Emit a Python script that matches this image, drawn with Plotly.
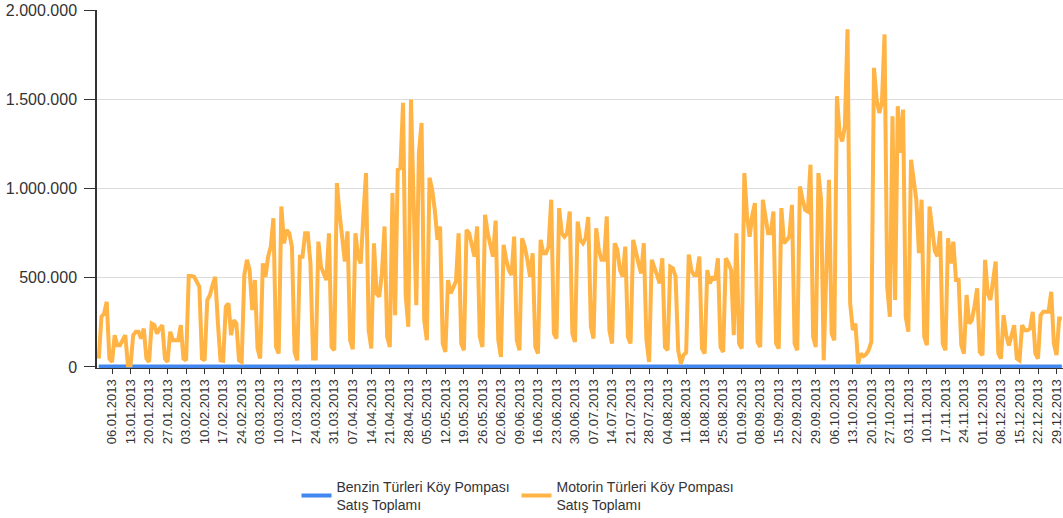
import plotly.graph_objects as go
import pandas as pd

# Daily totals, thousands, 2013
motorin_jan = [47,281,300,365,47,28,178,122,122,150,178,9,9,178,197,197,159,215,47,28,243,234,187,215,234,47,28,197,150,150,150]
motorin_feb = [234,47,37,509,509,505,478,450,47,37,375,403,459,505,250,37,34,337,356,178,262,243,37,28,515,600,543,318]
motorin_mar = [487,103,47,580,505,618,674,833,112,75,899,693,768,749,674,84,37,618,618,749,749,580,47,47,702,562,524,487,749,112,94]
motorin_apr = [1030,860,700,590,760,150,100,749,618,580,843,1086,206,103,693,412,393,524,787,169,112,974,290,1105,1114,1480,400,225,1498,1011]
motorin_may = [346,1200,1367,262,150,1060,993,880,712,787,131,84,487,412,450,480,749,131,94,768,749,693,618,787,169,112,852,749,693,618,820]
motorin_jun = [150,56,684,600,543,515,730,150,94,721,674,600,506,637,112,75,712,637,637,674,937,187,159,890,749,730,749,871,187,140]
motorin_jul = [815,712,693,721,840,225,159,777,656,600,600,843,206,131,693,656,543,506,674,169,131,712,637,580,524,693,150,28,600,562,515]
motorin_aug = [468,609,112,94,562,553,506,94,19,66,80,630,540,515,515,618,103,75,543,468,506,487,609,112,84,609,580,543,178,749,131]
motorin_sep = [103,1086,850,730,850,918,140,112,937,840,749,749,871,131,103,890,693,710,730,908,131,94,1011,940,880,871,1133,169,112,1086]
motorin_oct = [937,37,560,1049,187,150,1517,1311,1264,1349,1892,356,206,243,19,75,60,70,94,140,1676,1498,1423,1480,1863,450,281,1405,375,1461,1199]
motorin_nov = [1442,281,197,1161,1050,937,637,937,169,122,899,760,650,620,760,131,94,721,580,702,487,487,122,75,403,243,262,340,440,84]
motorin_dec = [66,600,412,375,480,590,75,47,290,178,120,170,234,47,37,234,206,206,215,309,75,47,290,309,309,309,421,131,66,272,272]

benzin_jan = [2,2,2,2,2,2,2,2,2,2,2,2,2,2,2,2,2,2,2,2,2,2,2,2,2,2,2,2,2,2,2]
benzin_feb = [2,2,2,2,2,2,2,2,2,2,2,2,2,2,2,2,2,2,2,2,2,2,2,2,2,2,2,2]
benzin_mar = [2,2,2,2,2,2,2,2,2,2,2,2,2,2,2,2,2,2,2,2,2,2,2,2,2,2,2,2,2,2,2]
benzin_apr = [2,2,2,2,2,2,2,2,2,2,2,2,2,2,2,2,2,2,2,2,2,2,2,2,2,2,2,2,2,2]
benzin_may = [2,2,2,2,2,2,2,2,2,2,2,2,2,2,2,2,2,2,2,2,2,2,2,2,2,2,2,2,2,2,2]
benzin_jun = [2,2,2,2,2,2,2,2,2,2,2,2,2,2,2,2,2,2,2,2,2,2,2,2,2,2,2,2,2,2]
benzin_jul = [2,2,2,2,2,2,2,2,2,2,2,2,2,2,2,2,2,2,2,2,2,2,2,2,2,2,2,2,2,2,2]
benzin_aug = [2,2,2,2,2,2,2,2,2,2,2,2,2,2,2,2,2,2,2,2,2,2,2,2,2,2,2,2,2,2,2]
benzin_sep = [2,2,2,2,2,2,2,2,2,2,2,2,2,2,2,2,2,2,2,2,2,2,2,2,2,2,2,2,2,2]
benzin_oct = [2,2,2,2,2,2,2,2,2,2,2,2,2,2,2,2,2,2,2,2,2,2,2,2,2,2,2,2,2,2,2]
benzin_nov = [2,2,2,2,2,2,2,2,2,2,2,2,2,2,2,2,2,2,2,2,2,2,2,2,2,2,2,2,2,2]
benzin_dec = [2,2,2,2,2,2,2,2,2,2,2,2,2,2,2,2,2,2,2,2,2,2,2,2,2,2,2,2,2,2,2]

series_names = ["Benzin Türleri Köy Pompası<br>Satış Toplamı",
                "Motorin Türleri Köy Pompası<br>Satış Toplamı"]

dates = pd.date_range("2013-01-01", "2013-12-31", freq="D")
tick_dates = pd.date_range("2013-01-06", "2013-12-29", freq="7D")
tick_labels = [d.strftime("%d.%m.%Y") for d in tick_dates]
y_ticks = [0, 500000, 1000000, 1500000, 2000000]

motorin = [v * 1000 for v in (motorin_jan + motorin_feb + motorin_mar + motorin_apr + motorin_may + motorin_jun
                              + motorin_jul + motorin_aug + motorin_sep + motorin_oct + motorin_nov + motorin_dec)]
benzin = [v * 1000 for v in (benzin_jan + benzin_feb + benzin_mar + benzin_apr + benzin_may + benzin_jun
                             + benzin_jul + benzin_aug + benzin_sep + benzin_oct + benzin_nov + benzin_dec)]

FONT = "Liberation Sans, Arial, sans-serif"
TXT = "#333333"

fig = go.Figure()
fig.add_trace(go.Scatter(x=dates, y=benzin, mode="lines", name=series_names[0],
                         line=dict(color="#4287F0", width=4)))
fig.add_trace(go.Scatter(x=dates, y=motorin, mode="lines", name=series_names[1],
                         line=dict(color="#FFB445", width=4)))

fig.update_layout(
    template="none",
    width=1063, height=518,
    margin=dict(l=97, r=0, t=10, b=150, pad=0, autoexpand=False),
    paper_bgcolor="white", plot_bgcolor="white",
    separators=",.",
    font=dict(family=FONT, color=TXT),
    showlegend=True,
    legend=dict(orientation="h", x=0.2065, xanchor="left", y=-0.287, yanchor="top",
                font=dict(family=FONT, size=14, color=TXT), itemwidth=30,
                entrywidth=175, tracegroupgap=0, bgcolor="rgba(0,0,0,0)"),
    xaxis=dict(type="date",
               range=["2012-12-31 07:40", "2013-12-31 10:48"],
               tickmode="array", tickvals=tick_dates, ticktext=tick_labels,
               tickangle=-90, tickfont=dict(family=FONT, size=13, color=TXT),
               ticklabeloverflow="allow",
               ticks="outside", ticklen=5, tickcolor=TXT, tickwidth=1,
               showgrid=False, showline=True, linecolor=TXT, linewidth=1,
               zeroline=False, automargin=False),
    yaxis=dict(range=[-6000, 2000000], tickmode="array", tickvals=y_ticks,
               tickformat=",d", tickfont=dict(family=FONT, size=16, color=TXT),
               ticks="outside", ticklen=11, tickcolor=TXT, tickwidth=1,
               ticklabelstandoff=4,
               showline=True, linecolor=TXT, linewidth=1.5,
               showgrid=True, gridcolor="#DCDCDC", gridwidth=1, zeroline=False,
               automargin=False),
)

fig.write_html("out.html",
               config={"displayModeBar": False},
               post_script="document.documentElement.style.margin='0';"
                           "document.body.style.margin='0';"
                           "document.body.style.overflow='hidden';")
